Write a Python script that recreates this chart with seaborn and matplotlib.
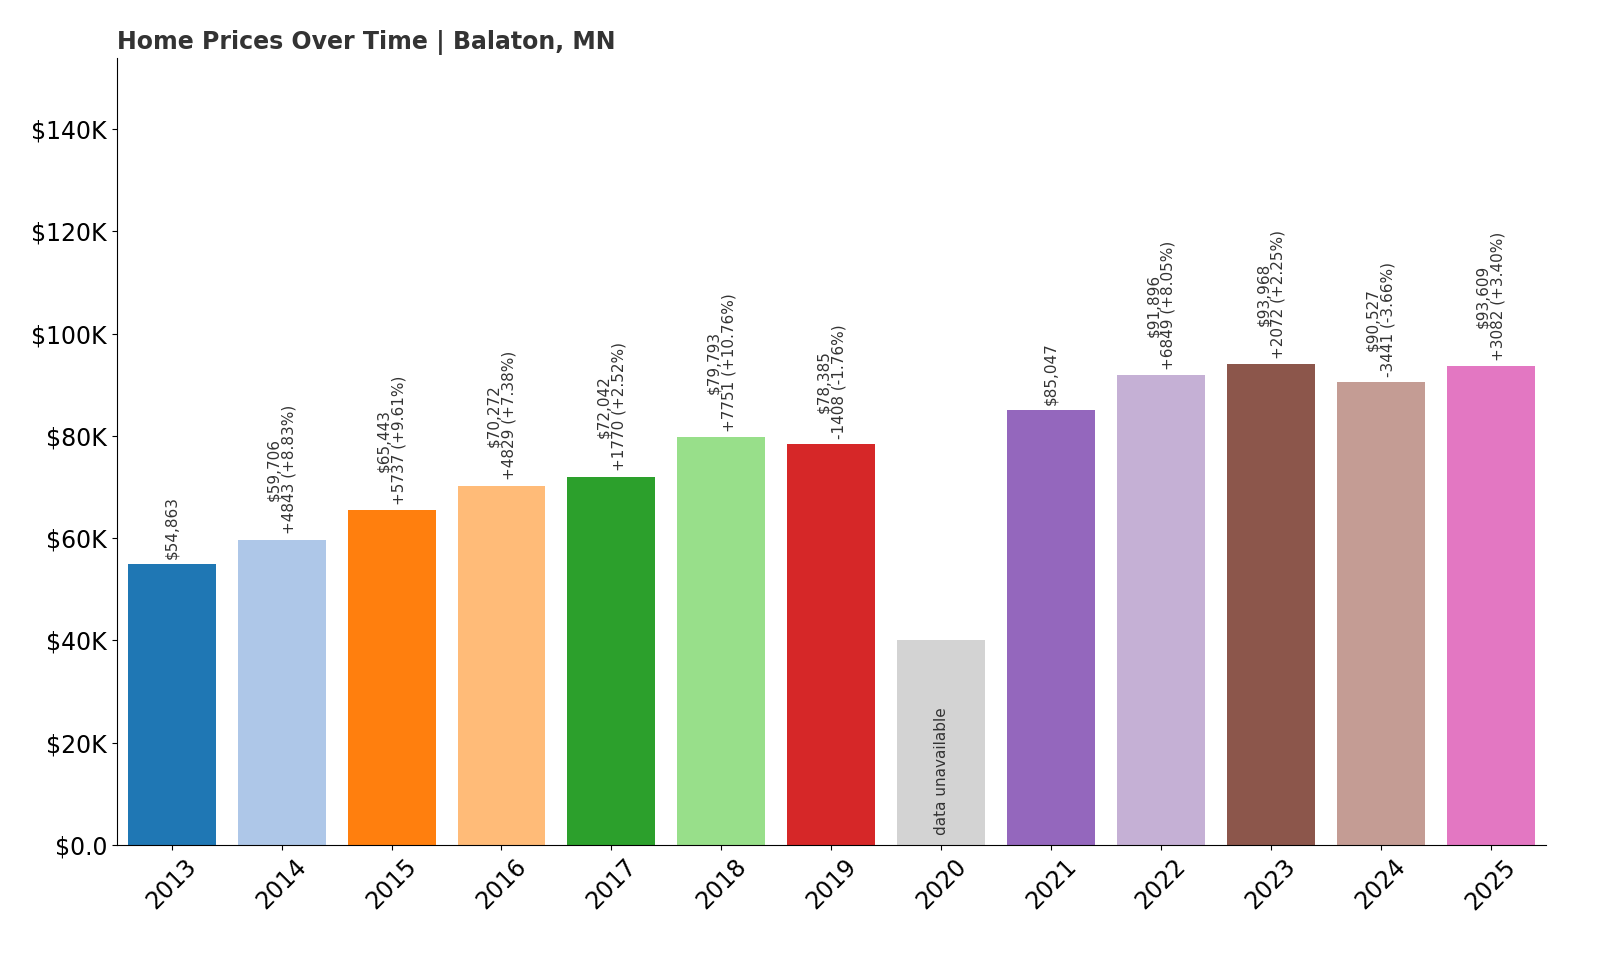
import matplotlib
matplotlib.use("Agg")
import matplotlib.pyplot as plt
import seaborn as sns
import pandas as pd
from matplotlib.ticker import FuncFormatter

years = ["2013", "2014", "2015", "2016", "2017", "2018", "2019", "2020",
         "2021", "2022", "2023", "2024", "2025"]
prices = [54863, 59706, 65443, 70272, 72042, 79793, 78385, None,
          85047, 91896, 93968, 90527, 93609]
changes = [None, "+4843 (+8.83%)", "+5737 (+9.61%)", "+4829 (+7.38%)", "+1770 (+2.52%)",
           "+7751 (+10.76%)", "-1408 (-1.76%)", None, None, "+6849 (+8.05%)",
           "+2072 (+2.25%)", "-3441 (-3.66%)", "+3082 (+3.40%)"]
placeholder = 40000

colors = list(plt.get_cmap("tab20").colors)[:14]
colors = colors[:7] + ["#d3d3d3"] + colors[8:14]

df = pd.DataFrame({"year": years,
                   "value": [p if p is not None else placeholder for p in prices]})

fig, ax = plt.subplots(figsize=(16, 9.6), dpi=100)
fig.subplots_adjust(left=0.073, right=0.966, top=0.94, bottom=0.12)
sns.barplot(data=df, x="year", y="value", hue="year", palette=colors,
            legend=False, ax=ax, width=0.8, saturation=1)

for i, (p, c) in enumerate(zip(prices, changes)):
    if p is None:
        ax.text(i, 2000, "data unavailable", rotation=90, ha="center", va="bottom",
                fontsize=11, color="#333333")
        continue
    label = f"${p:,}" if c is None else f"${p:,}\n{c}"
    ax.text(i, p + 1000, label, rotation=90, ha="center", va="bottom",
            fontsize=11, color="#333333", linespacing=1.0)

ax.set_ylim(0, 154000)
ax.yaxis.set_major_formatter(FuncFormatter(lambda v, _: "$0.0" if v == 0 else f"${v/1000:.0f}K"))
ax.set_yticks(range(0, 140001, 20000))
ax.tick_params(axis="y", labelsize=17)
ax.tick_params(axis="x", labelsize=17, rotation=45)
for t in ax.get_xticklabels():
    t.set_ha("center")
ax.set_xlabel("")
ax.set_ylabel("")
ax.spines["top"].set_visible(False)
ax.spines["right"].set_visible(False)
ax.set_title("Home Prices Over Time | Balaton, MN", loc="left", fontsize=17,
             fontweight="bold", color="#333333")

fig.savefig("out.png")
